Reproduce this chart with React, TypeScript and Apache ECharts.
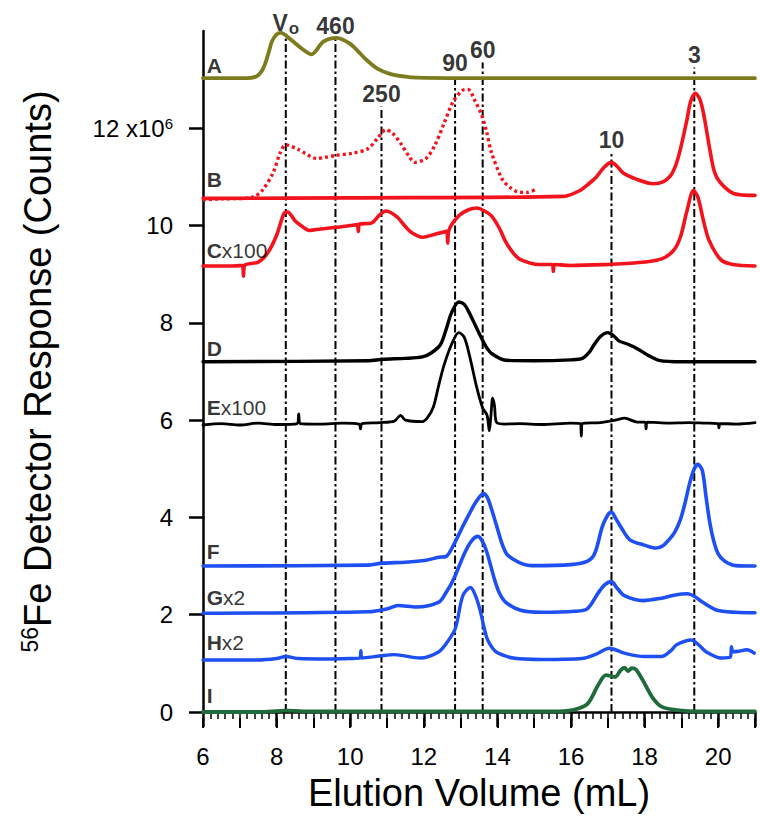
import React, { useEffect, useRef } from 'react';
import * as echarts from 'echarts';

const FONT = '"Liberation Sans", Arial, Helvetica, sans-serif';

// ---- axis ticks ----
const yTickValues = [0, 2, 4, 6, 8, 10, 12];

// ---- marker (calibration standard) lines ----
const markerVolumes = [8.25, 9.6, 10.85, 12.85, 13.6, 17.1, 19.35];
const markerTops = [13.85, 13.85, 12.45, 13.08, 13.35, 11.5, 13.25];
const markerLabels = ['V{sub|o}', '460', '250', '90', '60', '10', '3'];

// ---- traces: [elution volume (mL), response (x10^6 counts)] ----
const traceA = [[6, 13.03], [7.2, 13.03], [7.46, 13.07], [7.6, 13.18], [7.69, 13.33], [7.8, 13.6], [7.87, 13.78], [8.0, 13.93], [8.12, 13.96], [8.36, 13.84], [8.68, 13.64], [8.95, 13.52], [9.27, 13.78], [9.63, 13.86], [9.99, 13.74], [10.27, 13.54], [10.45, 13.4], [10.75, 13.22], [11.08, 13.12], [11.5, 13.06], [11.81, 13.04], [13, 13.03], [21, 13.03]];

const traceBsolid = [[6, 10.56], [10, 10.57], [15.8, 10.6], [16.24, 10.72], [16.5, 10.87], [16.69, 11.0], [16.9, 11.2], [17.1, 11.3], [17.25, 11.22], [17.42, 11.08], [17.79, 10.95], [18.24, 10.86], [18.5, 10.9], [18.7, 11.02], [18.85, 11.25], [18.97, 11.56], [19.15, 12.17], [19.25, 12.55], [19.38, 12.72], [19.5, 12.6], [19.6, 12.31], [19.79, 11.49], [19.9, 11.1], [20.06, 10.88], [20.42, 10.66], [21, 10.62]];

const traceBdotted = [[6.0, 10.53], [6.5, 10.55], [7.11, 10.56], [7.4, 10.6], [7.61, 10.72], [7.9, 11.08], [8.1, 11.5], [8.25, 11.66], [8.6, 11.56], [9.09, 11.38], [9.3, 11.4], [9.59, 11.44], [10.08, 11.49], [10.48, 11.58], [10.75, 11.8], [10.97, 11.97], [11.15, 11.9], [11.37, 11.69], [11.6, 11.42], [11.76, 11.3], [12.06, 11.38], [12.3, 11.65], [12.55, 12.1], [12.8, 12.55], [13.05, 12.78], [13.2, 12.8], [13.4, 12.55], [13.56, 12.3], [13.7, 11.95], [13.84, 11.5], [14.14, 10.94], [14.35, 10.78], [14.53, 10.7], [14.8, 10.68], [15.03, 10.74]];

const traceC = [[6, 9.17], [6.8, 9.17], [7.07, 9.18], [7.1, 8.96], [7.13, 9.18], [7.5, 9.25], [7.76, 9.44], [8.0, 9.8], [8.2, 10.25], [8.3, 10.28], [8.5, 10.1], [8.7, 9.98], [8.89, 9.9], [9.2, 9.93], [9.59, 9.96], [10.0, 10.0], [10.19, 10.02], [10.22, 9.88], [10.25, 10.03], [10.57, 10.05], [10.8, 10.22], [10.97, 10.3], [11.27, 10.18], [11.5, 9.98], [11.66, 9.86], [11.96, 9.76], [12.3, 9.82], [12.62, 9.88], [12.65, 9.64], [12.68, 9.9], [12.95, 10.2], [13.2, 10.32], [13.44, 10.36], [13.65, 10.3], [13.84, 10.2], [14.05, 9.95], [14.23, 9.66], [14.45, 9.42], [14.63, 9.3], [15.12, 9.2], [15.49, 9.2], [15.52, 9.06], [15.55, 9.2], [16.0, 9.18], [17.0, 9.2], [17.5, 9.22], [18.0, 9.25], [18.48, 9.32], [18.8, 9.5], [18.98, 9.78], [19.15, 10.3], [19.33, 10.72], [19.45, 10.58], [19.6, 10.1], [19.75, 9.7], [20.07, 9.3], [20.4, 9.2], [21, 9.17]];

const traceD = [[6, 7.2], [10.5, 7.22], [10.87, 7.25], [11.5, 7.27], [11.96, 7.3], [12.2, 7.38], [12.45, 7.55], [12.6, 7.85], [12.75, 8.2], [12.95, 8.43], [13.1, 8.38], [13.24, 8.2], [13.4, 7.95], [13.54, 7.73], [13.7, 7.5], [13.84, 7.37], [14.23, 7.23], [15, 7.22], [16.0, 7.24], [16.31, 7.27], [16.5, 7.4], [16.61, 7.53], [16.8, 7.72], [17.0, 7.8], [17.15, 7.74], [17.3, 7.63], [17.55, 7.56], [17.8, 7.47], [18.1, 7.33], [18.39, 7.23], [19, 7.2], [21, 7.2]];

const traceE = [[6, 5.9], [6.5, 5.93], [7.0, 5.9], [7.5, 5.94], [8.0, 5.91], [8.56, 5.93], [8.6, 6.13], [8.64, 5.93], [9.2, 5.92], [9.8, 5.94], [10.24, 5.92], [10.28, 5.82], [10.32, 5.93], [10.8, 5.95], [11.2, 5.98], [11.37, 6.1], [11.5, 6.0], [11.96, 5.97], [12.1, 6.05], [12.26, 6.27], [12.4, 6.7], [12.55, 7.13], [12.75, 7.55], [12.95, 7.8], [13.1, 7.7], [13.25, 7.3], [13.44, 6.67], [13.6, 6.25], [13.72, 6.1], [13.78, 5.78], [13.82, 6.05], [13.87, 6.45], [13.92, 6.3], [13.98, 5.95], [14.2, 5.92], [14.6, 5.93], [15.2, 5.91], [16.0, 5.94], [16.25, 5.93], [16.28, 5.67], [16.31, 5.93], [16.8, 5.95], [17.2, 6.0], [17.46, 6.04], [17.8, 5.96], [18.01, 5.96], [18.04, 5.82], [18.07, 5.96], [18.6, 5.94], [19.2, 5.95], [19.6, 5.94], [19.99, 5.93], [20.02, 5.84], [20.05, 5.93], [20.5, 5.92], [21, 5.95]];

const traceF = [[6, 3.0], [10.5, 3.02], [10.87, 3.06], [11.5, 3.08], [12.06, 3.12], [12.4, 3.18], [12.61, 3.2], [12.8, 3.42], [13.01, 3.74], [13.2, 4.02], [13.42, 4.32], [13.62, 4.49], [13.72, 4.42], [13.82, 4.22], [13.97, 3.85], [14.12, 3.47], [14.25, 3.25], [14.43, 3.14], [14.7, 3.04], [14.93, 3.01], [16.0, 3.03], [16.45, 3.1], [16.65, 3.27], [16.85, 3.81], [17.0, 4.05], [17.1, 4.11], [17.2, 4.0], [17.35, 3.81], [17.6, 3.54], [17.96, 3.44], [18.31, 3.37], [18.5, 3.42], [18.66, 3.54], [18.82, 3.7], [18.97, 3.95], [19.1, 4.3], [19.22, 4.69], [19.35, 5.0], [19.45, 5.09], [19.57, 4.96], [19.67, 4.42], [19.77, 3.9], [19.87, 3.54], [20.0, 3.25], [20.18, 3.1], [20.48, 3.01], [21, 3.0]];

const traceG = [[6, 2.03], [10.5, 2.06], [11.0, 2.12], [11.3, 2.19], [11.8, 2.16], [12.41, 2.26], [12.6, 2.45], [12.81, 2.73], [13.11, 3.27], [13.3, 3.52], [13.47, 3.61], [13.6, 3.5], [13.72, 3.27], [13.92, 2.73], [14.05, 2.45], [14.22, 2.26], [14.63, 2.09], [15.2, 2.05], [16.1, 2.07], [16.44, 2.12], [16.75, 2.46], [16.92, 2.62], [17.1, 2.68], [17.25, 2.55], [17.45, 2.39], [17.96, 2.29], [18.46, 2.34], [18.8, 2.4], [19.17, 2.43], [19.35, 2.38], [19.57, 2.26], [19.97, 2.09], [20.48, 2.05], [21, 2.04]];

const traceH = [[6.0, 1.07], [7.5, 1.07], [8.0, 1.1], [8.25, 1.14], [8.6, 1.1], [9.38, 1.09], [10.0, 1.1], [10.26, 1.11], [10.29, 1.26], [10.32, 1.11], [10.8, 1.15], [11.2, 1.18], [11.9, 1.11], [12.41, 1.24], [12.65, 1.45], [12.86, 1.72], [13.06, 2.39], [13.27, 2.56], [13.4, 2.4], [13.52, 2.12], [13.72, 1.51], [13.88, 1.3], [14.02, 1.21], [14.43, 1.11], [15.2, 1.08], [16.3, 1.1], [16.65, 1.18], [17.05, 1.31], [17.45, 1.21], [18.0, 1.14], [18.46, 1.14], [18.7, 1.25], [18.87, 1.38], [19.27, 1.48], [19.47, 1.38], [19.67, 1.24], [20.08, 1.11], [20.33, 1.13], [20.36, 1.34], [20.4, 1.24], [20.55, 1.25], [20.78, 1.28], [20.98, 1.21]];

const traceI = [[6, 0.0], [7.5, 0.0], [8.25, 0.03], [9.0, 0.01], [15.5, 0.01], [16.04, 0.04], [16.44, 0.16], [16.75, 0.57], [16.95, 0.76], [17.2, 0.72], [17.35, 0.86], [17.45, 0.91], [17.55, 0.84], [17.65, 0.9], [17.76, 0.88], [17.96, 0.64], [18.21, 0.3], [18.46, 0.11], [18.87, 0.04], [19.5, 0.01], [21, 0.01]];

// ---- trace labels ----
const traceLabelText = ['{b|A}', '{b|B}', '{b|C}x100', '{b|D}', '{b|E}x100', '{b|F}', '{b|G}x2', '{b|H}x2', '{b|I}'];
const traceLabelY = [13.3, 10.94, 9.49, 7.48, 6.27, 3.3, 2.36, 1.42, 0.33];
const traceLabelX = 6.1;

const RED = '#f2131c';
const BLUE = '#1d4ff2';
const OLIVE = '#7c7c1f';
const GREEN = '#1f6b3b';

function traceSeries(data: number[][], color: string, width: number, dashed?: any) {
  return {
    type: 'line',
    data,
    smooth: 0.3,
    symbol: 'none',
    z: 3,
    silent: true,
    lineStyle: {
      color,
      width,
      type: dashed || 'solid',
      cap: dashed ? 'butt' : 'round',
      join: 'round',
    },
  };
}

export default function App() {
  const ref = useRef<HTMLDivElement>(null);
  useEffect(() => {
    const chart = echarts.init(ref.current!, null, { renderer: 'svg' });
    const markerSeries = markerVolumes.map((x, i) => ({
      type: 'line',
      data: [[x, 0], [x, markerTops[i]]],
      symbol: 'none',
      z: 1,
      silent: true,
      lineStyle: { color: '#000', width: 2, type: [8, 3, 2.5, 3] },
    }));
    const option: any = {
      animation: false,
      backgroundColor: '#ffffff',
      textStyle: { fontFamily: FONT, color: '#000' },
      grid: { left: 203, right: 5, top: 31, bottom: 107, containLabel: false },
      xAxis: [
        {
          type: 'value',
          min: 6,
          max: 21,
          interval: 2,
          offset: 6,
          axisLine: { show: true, lineStyle: { color: '#000', width: 2.5 } },
          axisTick: { show: true, length: 15, lineStyle: { color: '#000', width: 2.5 } },
          minorTick: { show: true, splitNumber: 10, length: 7, lineStyle: { color: '#000', width: 1.5 } },
          splitLine: { show: false },
          axisLabel: {
            fontSize: 24,
            color: '#000',
            margin: 26,
            fontFamily: FONT,
            formatter: (v: number) => (v > 20 ? '' : String(v)),
          },
          name: 'Elution Volume (mL)',
          nameLocation: 'middle',
          nameGap: 56,
          nameTextStyle: { fontSize: 38, color: '#000', fontFamily: FONT },
        },
        {
          type: 'value',
          min: 6,
          max: 21,
          interval: 1,
          offset: 6,
          position: 'bottom',
          axisLine: { show: false },
          axisTick: { show: true, length: 10, lineStyle: { color: '#000', width: 2 } },
          axisLabel: { show: false },
          splitLine: { show: false },
        },
      ],
      yAxis: {
        type: 'value',
        min: 0,
        max: 14,
        interval: 2,
        axisLine: { show: true, lineStyle: { color: '#000', width: 2.5 } },
        axisTick: { show: true, length: 14, customValues: yTickValues, lineStyle: { color: '#000', width: 2.5 } },
        splitLine: { show: false },
        axisLabel: {
          customValues: yTickValues,
          fontSize: 24,
          color: '#000',
          margin: 30,
          fontFamily: FONT,
          formatter: (v: number) => (v === 12 ? '12 x10{sup|6}' : String(v)),
          rich: {
            sup: { fontSize: 15, verticalAlign: 'top', color: '#000', fontFamily: FONT, padding: [0, 0, 10, 0] },
          },
        },
        name: '{sup|56}Fe Detector Response (Counts)',
        nameLocation: 'middle',
        nameGap: 146,
        nameTextStyle: {
          fontSize: 38,
          color: '#000',
          fontFamily: FONT,
          rich: {
            sup: { fontSize: 23, verticalAlign: 'top', color: '#000', fontFamily: FONT, padding: [0, 0, 16, 0] },
          },
        },
      },
      series: [
        ...markerSeries,
        traceSeries(traceA, OLIVE, 3.8),
        traceSeries(traceBdotted, RED, 3.4, [3, 3]),
        traceSeries(traceBsolid, RED, 3.6),
        traceSeries(traceC, RED, 3.6),
        traceSeries(traceD, '#000', 3.4),
        traceSeries(traceE, '#000', 2.8),
        traceSeries(traceF, BLUE, 3.6),
        traceSeries(traceG, BLUE, 3.6),
        traceSeries(traceH, BLUE, 3.4),
        traceSeries(traceI, GREEN, 3.8),
        {
          type: 'scatter',
          symbolSize: 0,
          silent: true,
          z: 5,
          data: markerVolumes.map((x, i) => ({ value: [x, markerTops[i]], name: markerLabels[i] })),
          label: {
            show: true,
            position: 'top',
            distance: 1,
            formatter: (p: any) => p.name,
            fontSize: 23,
            fontWeight: 'bold',
            color: '#000',
            fontFamily: FONT,
            rich: {
              sub: { fontSize: 17, fontWeight: 'bold', verticalAlign: 'bottom', color: '#000', fontFamily: FONT, padding: [12, 0, 0, 1] },
            },
          },
        },
        {
          type: 'scatter',
          symbolSize: 0,
          silent: true,
          z: 5,
          data: traceLabelY.map((y, i) => ({ value: [traceLabelX, y], name: traceLabelText[i] })),
          label: {
            show: true,
            position: 'right',
            distance: 0,
            formatter: (p: any) => p.name,
            fontSize: 21,
            color: '#000',
            fontFamily: FONT,
            rich: {
              b: { fontSize: 21, fontWeight: 'bold', color: '#000', fontFamily: FONT },
            },
          },
        },
      ],
    };
    chart.setOption(option);
    return () => chart.dispose();
  }, []);
  return (
    <div
      ref={ref}
      style={{ position: 'absolute', left: 0, top: 0, width: 760, height: 819, background: '#fff' }}
    />
  );
}
